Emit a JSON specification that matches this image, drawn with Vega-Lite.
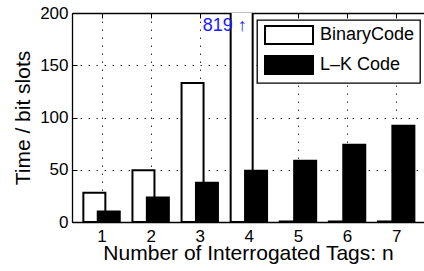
{
  "$schema": "https://vega.github.io/schema/vega-lite/v6.json",
  "width": 352,
  "height": 209,
  "autosize": {"type": "none"},
  "padding": {"left": 72, "top": 13, "right": 0, "bottom": 49},
  "background": "white",
  "config": {"view": {"stroke": null}, "font": "Liberation Sans"},
  "data": {"values": [
    {"n": 1, "series": "BinaryCode", "time": 28},
    {"n": 2, "series": "BinaryCode", "time": 49.5},
    {"n": 3, "series": "BinaryCode", "time": 133},
    {"n": 4, "series": "BinaryCode", "time": 819},
    {"n": 5, "series": "BinaryCode", "time": 0.5},
    {"n": 6, "series": "BinaryCode", "time": 0.5},
    {"n": 7, "series": "BinaryCode", "time": 0.5},
    {"n": 1, "series": "L–K Code", "time": 10},
    {"n": 2, "series": "L–K Code", "time": 23.5},
    {"n": 3, "series": "L–K Code", "time": 37.5},
    {"n": 4, "series": "L–K Code", "time": 49},
    {"n": 5, "series": "L–K Code", "time": 58.5},
    {"n": 6, "series": "L–K Code", "time": 74},
    {"n": 7, "series": "L–K Code", "time": 92}
  ]},
  "layer": [
    {
      "transform": [{"filter": "datum.series === 'BinaryCode'"}],
      "mark": {"type": "bar", "width": 22, "xOffset": -7.2, "stroke": "black", "strokeWidth": 2, "clip": true},
      "encoding": {
        "x": {"field": "n", "type": "quantitative",
          "scale": {"domain": [0.5, 7.465], "nice": false, "zero": false},
          "axis": {"orient": "bottom", "values": [1, 2, 3, 4, 5, 6, 7], "title": "Number of Interrogated Tags: n",
            "tickSize": -5, "tickColor": "black", "tickWidth": 1,
            "domainColor": "black", "domainWidth": 1.3,
            "labelFontSize": 17, "labelColor": "black", "labelPadding": 11.5,
            "titleFontSize": 21, "titleFontWeight": "normal", "titleColor": "black",
            "titleY": 37.5, "titleBaseline": "alphabetic",
            "grid": true, "gridDash": [1.5, 6.5], "gridColor": "#333", "gridWidth": 1}},
        "y": {"field": "time", "type": "quantitative",
          "scale": {"domain": [0, 200], "nice": false, "zero": true},
          "axis": {"values": [0, 50, 100, 150, 200], "title": "Time / bit slots",
            "tickSize": -5, "tickColor": "black", "tickWidth": 1,
            "domainColor": "black", "domainWidth": 1.3,
            "labelFontSize": 17, "labelColor": "black", "labelPadding": 9,
            "titleFontSize": 21, "titleFontWeight": "normal", "titleColor": "black", "titlePadding": 6,
            "grid": true, "gridDash": [1.5, 6.5], "gridColor": "#333", "gridWidth": 1}},
        "fill": {"field": "series", "type": "nominal",
          "scale": {"domain": ["BinaryCode", "L–K Code"], "range": ["white", "black"]},
          "legend": {"orient": "none", "legendX": 185, "legendY": 7, "title": null,
            "fillColor": "white", "strokeColor": "black", "padding": 5, "cornerRadius": 0,
            "labelFontSize": 18, "labelColor": "black", "labelOffset": 21,
            "symbolType": "M-2.667,-1H2.667V1H-2.667Z", "symbolSize": 324, "symbolOffset": 17,
            "symbolStrokeColor": "black", "symbolStrokeWidth": 2, "rowPadding": 4,
            "encode": {"legend": {"update": {"strokeWidth": {"value": 1.3}}}}}}
      }
    },
    {
      "transform": [{"filter": "datum.series === 'L–K Code'"}],
      "mark": {"type": "bar", "width": 22, "xOffset": 7.2, "stroke": "black", "strokeWidth": 2, "clip": true},
      "encoding": {
        "x": {"field": "n", "type": "quantitative", "axis": null},
        "y": {"field": "time", "type": "quantitative", "title": "Time / bit slots"},
        "fill": {"field": "series", "type": "nominal"}
      }
    },
    {
      "data": {"values": [{"n": 4, "label": "819  ↑"}]},
      "mark": {"type": "text", "align": "right", "baseline": "middle", "dx": -2, "fontSize": 18, "fontWeight": "normal", "color": "#1a1aff"},
      "encoding": {
        "text": {"field": "label", "type": "nominal"},
        "x": {"field": "n", "type": "quantitative",
          "axis": {"orient": "top", "values": [1, 2, 3, 4, 5, 6, 7], "labels": false, "title": null,
            "tickSize": -5, "tickColor": "black", "tickWidth": 1, "domainColor": "black", "domainWidth": 1.3, "grid": false}},
        "y": {"datum": 188, "type": "quantitative", "title": "Time / bit slots"}
      }
    }
  ],
  "resolve": {"axis": {"x": "independent"}}
}
